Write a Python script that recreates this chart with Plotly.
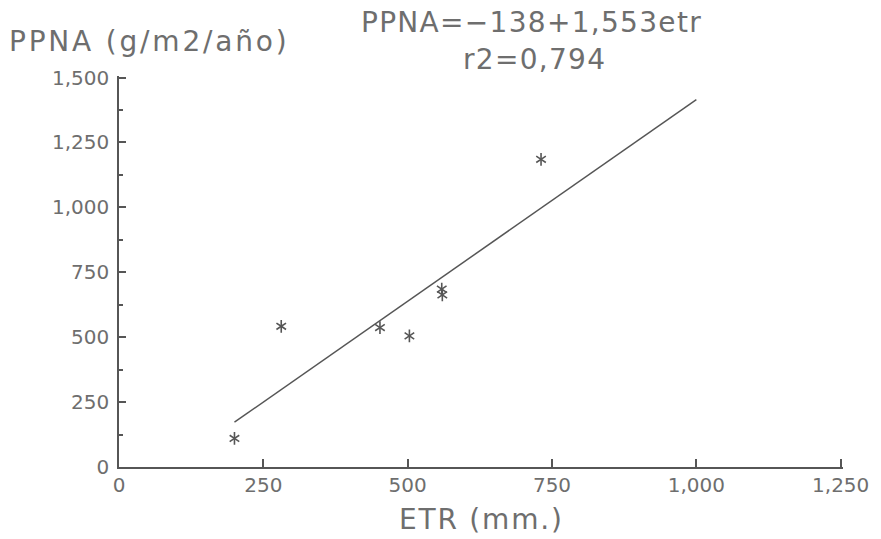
import plotly.graph_objects as go

# Observed sites: actual evapotranspiration (mm) vs. above-ground net primary production
etr_mm = [200, 281, 452, 503, 559, 560, 731]
ppna = [110, 542, 537, 505, 685, 663, 1185]

# Linear regression reported for the data set
intercept = -138
slope = 1.553
r2 = 0.794
fit_x = [200, 1000]
fit_y = [intercept + slope * v for v in fit_x]

x_tickvals = [0, 250, 500, 750, 1000, 1250]
x_ticktext = ["0", "250", "500", "750", "1,000", "1,250"]
y_tickvals = [0, 250, 500, 750, 1000, 1250, 1500]
y_ticktext = ["0", "250", "500", "750", "1,000", "1,250", "1,500"]
y_minor = [125, 375, 625, 875, 1125, 1375]

INK = "#565656"
TEXT = "#6e6e6e"
FONT = "DejaVu Sans"


def spaced(s, px):
    return f'<span style="letter-spacing:{px}px">{s}</span>'


fig = go.Figure()

# regression line
fig.add_trace(go.Scatter(
    x=fit_x, y=fit_y, mode="lines",
    line=dict(color=INK, width=1.5),
    hoverinfo="skip", showlegend=False,
))

# six-armed asterisk markers: an upward and a downward "Y" drawn on top of each other
for sym in ["y-up-open", "y-down-open"]:
    fig.add_trace(go.Scatter(
        x=etr_mm, y=ppna, mode="markers",
        marker=dict(symbol=sym, size=8, color=INK, line=dict(color=INK, width=1.6)),
        showlegend=False,
    ))

axis_common = dict(
    showgrid=False, zeroline=False, showline=True,
    linecolor=INK, linewidth=1.5,
    ticks="inside", tickcolor=INK, tickwidth=1.5,
    tickfont=dict(family=FONT, size=20, color=TEXT),
    tickmode="array",
)

# ranges run a hair past the last tick so the end ticks are kept
fig.update_xaxes(
    **axis_common, range=[0, 1254], ticklen=8,
    tickvals=x_tickvals, ticktext=x_ticktext, ticklabelstandoff=-1,
)
fig.update_yaxes(
    **axis_common, range=[0, 1506], ticklen=7,
    tickvals=y_tickvals, ticktext=y_ticktext, ticklabelstandoff=4,
    minor=dict(tickvals=y_minor, ticks="inside",
               ticklen=4, tickcolor=INK, tickwidth=1.5),
)

ann_font = dict(family=FONT, size=28, color=TEXT)
fig.add_annotation(text=spaced("PPNA (g/m2/año)", 2.8), xref="paper", yref="paper",
                   x=-0.155, y=1.088, xanchor="left", yanchor="middle",
                   showarrow=False, font=ann_font)
fig.add_annotation(text=spaced("ETR (mm.)", 1.8), xref="paper", yref="paper",
                   x=0.5, y=-0.133, xanchor="center", yanchor="middle",
                   showarrow=False, font=ann_font)
eq_text = f"PPNA=\u2212{abs(intercept)}+{str(slope).replace('.', ',')}etr"
fig.add_annotation(text=spaced(eq_text, 1.3),
                   xref="paper", yref="paper", x=0.570, y=1.138,
                   xanchor="center", yanchor="middle", showarrow=False, font=ann_font)
fig.add_annotation(text=spaced(f"r2={str(r2).replace('.', ',')}", 1.3),
                   xref="paper", yref="paper", x=0.574, y=1.042,
                   xanchor="center", yanchor="middle", showarrow=False, font=ann_font)

fig.update_layout(
    width=881, height=539,
    margin=dict(l=119, r=36, t=76, b=72),
    paper_bgcolor="white", plot_bgcolor="white",
    font=dict(family=FONT, color=TEXT),
)

fig.write_html("out.html")
